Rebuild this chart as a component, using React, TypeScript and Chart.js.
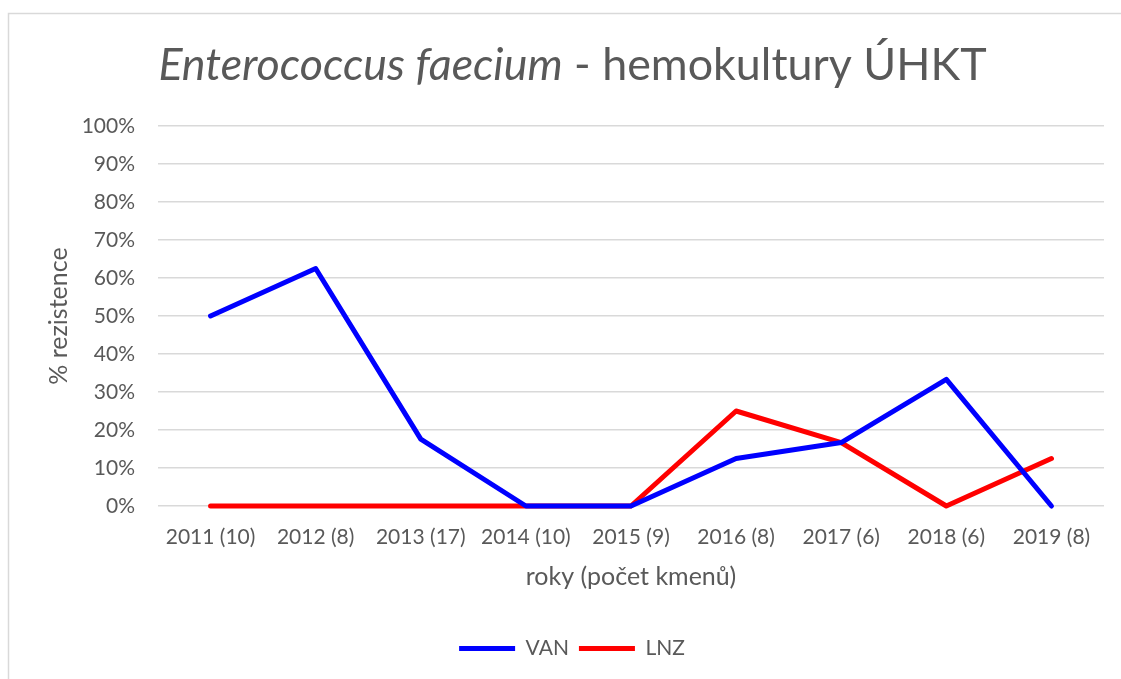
import React, { useEffect, useRef } from "react";
import { Chart, registerables } from "chart.js";

Chart.register(...registerables);

const categories = ["2011 (10)", "2012 (8)", "2013 (17)", "2014 (10)", "2015 (9)", "2016 (8)", "2017 (6)", "2018 (6)", "2019 (8)"];
const vanValues = [50, 62.5, 17.6, 0, 0, 12.5, 16.7, 33.3, 0];
const lnzValues = [0, 0, 0, 0, 0, 25, 16.7, 0, 12.5];
const titleItalic = "Enterococcus faecium";
const titleRest = " - hemokultury ÚHKT";
const xTitle = "roky (počet kmenů)";
const yTitle = "% rezistence";

const TEXT = "#595959";
const GRID = "#d9d9d9";
const FONT = "Lato, 'Open Sans', sans-serif";

const decorPlugin = {
  id: "decor",
  beforeDraw(chart: any) {
    const ctx = chart.ctx;
    ctx.save();
    ctx.fillStyle = "#ffffff";
    ctx.fillRect(0, 0, chart.width, chart.height);
    ctx.strokeStyle = GRID;
    ctx.lineWidth = 1.5;
    ctx.strokeRect(8.5, 13.5, 1300, 900);
    ctx.restore();
  },
  afterDraw(chart: any) {
    const ctx = chart.ctx;
    ctx.save();
    const size = 44.8;
    const fItalic = `italic 400 ${size}px ${FONT}`;
    const fNormal = `400 ${size}px ${FONT}`;
    ctx.font = fItalic;
    const w1 = ctx.measureText(titleItalic).width;
    ctx.font = fNormal;
    const w2 = ctx.measureText(titleRest).width;
    const cx = 572.5;
    const x0 = cx - (w1 + w2) / 2;
    ctx.fillStyle = TEXT;
    ctx.textBaseline = "alphabetic";
    ctx.textAlign = "left";
    ctx.font = fItalic;
    ctx.fillText(titleItalic, x0, 80);
    ctx.font = fNormal;
    ctx.fillText(titleRest, x0 + w1, 80);
    ctx.restore();
  },
};

export default function App() {
  const ref = useRef<HTMLCanvasElement | null>(null);
  useEffect(() => {
    document.body.style.margin = "0";
    const canvas = ref.current!;
    const chart = new Chart(canvas, {
      type: "line",
      data: {
        labels: categories,
        datasets: [
          {
            label: "VAN",
            data: vanValues,
            borderColor: "#0000ff",
            backgroundColor: "#0000ff",
            borderWidth: 5,
            pointRadius: 0,
            borderCapStyle: "round",
            borderJoinStyle: "round",
            tension: 0,
            clip: false,
          },
          {
            label: "LNZ",
            data: lnzValues,
            borderColor: "#ff0000",
            backgroundColor: "#ff0000",
            borderWidth: 5,
            pointRadius: 0,
            borderCapStyle: "round",
            borderJoinStyle: "round",
            tension: 0,
            clip: false,
          },
        ],
      },
      options: {
        responsive: false,
        animation: false,
        layout: { padding: { left: 40, right: 17, top: 126, bottom: 10 } },
        plugins: {
          title: { display: false },
          tooltip: { enabled: false },
          legend: {
            position: "bottom",
            labels: {
              color: TEXT,
              font: { family: FONT, size: 21 },
              boxWidth: 56,
              boxHeight: 5,
              padding: 10,
              generateLabels(chart: any) {
                return chart.data.datasets.map((ds: any, i: number) => ({
                  text: ds.label,
                  fillStyle: ds.borderColor,
                  strokeStyle: ds.borderColor,
                  lineWidth: 0,
                  fontColor: TEXT,
                  datasetIndex: i,
                  hidden: false,
                }));
              },
            },
          },
        },
        scales: {
          x: {
            offset: true,
            grid: { display: false, drawTicks: false },
            border: { display: false },
            ticks: { color: TEXT, font: { family: FONT, size: 21 }, padding: 19, maxRotation: 0, autoSkip: false },
            title: {
              display: true,
              text: xTitle,
              color: TEXT,
              font: { family: FONT, size: 25 },
              padding: { top: 0, bottom: 36 },
            },
            afterFit(scale: any) {
              scale.height = 122;
            },
          },
          y: {
            min: 0,
            max: 100,
            grid: { color: GRID, lineWidth: 1.5, drawTicks: false },
            border: { display: false },
            ticks: {
              stepSize: 10,
              color: TEXT,
              font: { family: FONT, size: 21 },
              padding: 23,
              callback: (v: any) => v + "%",
            },
            title: {
              display: true,
              text: yTitle,
              color: TEXT,
              font: { family: FONT, size: 25 },
              padding: { top: 4, bottom: 0 },
            },
            afterFit(scale: any) {
              scale.width = 118;
            },
          },
        },
      },
      plugins: [decorPlugin],
    } as any);
    return () => chart.destroy();
  }, []);
  return (
    <div style={{ position: "absolute", left: 0, top: 0, width: 1121, height: 679, overflow: "hidden" }}>
      <canvas ref={ref} width={1121} height={679} />
    </div>
  );
}
